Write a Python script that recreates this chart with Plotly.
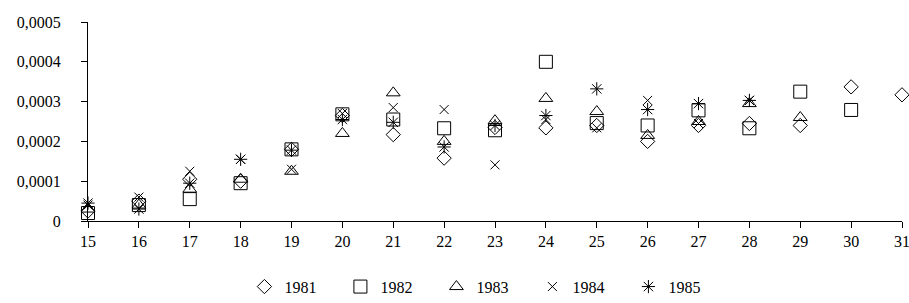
import plotly.graph_objects as go

ages = [15, 16, 17, 18, 19, 20, 21, 22, 23, 24, 25, 26, 27, 28, 29, 30, 31]

v1981 = [0.000025, 0.00005, 0.000105, 0.0001, 0.00018, 0.000265, 0.000217, 0.000158, 0.000235,
         0.000234, 0.00024, 0.0002, 0.00024, 0.000245, 0.00024, 0.000337, 0.000317]
v1982 = [0.00002, 0.00004, 0.000055, 0.000095, 0.00018, 0.000268, 0.000255, 0.000233, 0.000228,
         0.0004, 0.000246, 0.00024, 0.000278, 0.000233, 0.000325, 0.000279, None]
v1983 = [0.00003, 0.00004, 0.00008, 0.000105, 0.000125, 0.00022, 0.000322, 0.0002, 0.000252,
         0.000308, 0.000275, 0.000215, 0.00025, 0.000295, 0.00026, None, None]
v1984 = [0.00004, 0.00006, 0.000125, 0.000155, 0.00013, 0.00027, 0.000285, 0.00028, 0.000141,
         0.000255, 0.000234, 0.000303, 0.000245, 0.000303, None, None, None]
v1985 = [0.000045, 0.00003, 0.000095, 0.000155, 0.000178, 0.000255, 0.000248, 0.000186, 0.00024,
         0.000265, 0.000332, 0.00028, 0.000295, 0.000303, None, None, None]

series_names = ["1981", "1982", "1983", "1984", "1985"]
series_values = [v1981, v1982, v1983, v1984, v1985]

y_tickvals = [0, 0.0001, 0.0002, 0.0003, 0.0004, 0.0005]
y_ticktext = ["0", "0,0001", "0,0002", "0,0003", "0,0004", "0,0005"]

symbols = ["diamond-open", "square-open", "triangle-up-open", "x-thin-open", "asterisk-open"]
sizes = [11, 13, 12, 9, 11]

FONT = "Liberation Serif"

fig = go.Figure()
for name, vals, sym, sz in zip(series_names, series_values, symbols, sizes):
    fig.add_trace(go.Scatter(
        x=ages, y=vals, name=name, mode="markers", cliponaxis=False,
        marker=dict(symbol=sym, size=sz, color="black",
                    line=dict(color="black", width=1)),
    ))

fig.update_layout(
    width=909, height=303,
    margin=dict(l=88, r=7, t=22, b=82, autoexpand=False),
    paper_bgcolor="white", plot_bgcolor="white",
    font=dict(family=FONT, size=16, color="black"),
    showlegend=True,
    legend=dict(orientation="h", x=0.487, xanchor="center", y=-0.33, yanchor="middle",
                font=dict(family=FONT, size=16, color="black"),
                itemwidth=30, entrywidth=51, itemclick=False),
    xaxis=dict(range=[15, 31], tickvals=ages, showline=True, linecolor="black", linewidth=1,
               ticks="outside", ticklen=6, tickcolor="black", showgrid=False, zeroline=False,
               automargin=False, ticklabeloverflow="allow",
               tickfont=dict(family=FONT, size=16)),
    yaxis=dict(range=[0, 0.0005], tickvals=y_tickvals, ticktext=y_ticktext, showline=True,
               linecolor="black", linewidth=1, ticks="outside", ticklen=6, tickcolor="black",
               showgrid=False, zeroline=False, ticklabelstandoff=17, automargin=False,
               ticklabeloverflow="allow", tickfont=dict(family=FONT, size=16)),
)

fig.write_html(
    "out.html",
    config={"displayModeBar": False},
    post_script="document.body.style.margin='0';document.body.style.overflow='hidden';",
)
